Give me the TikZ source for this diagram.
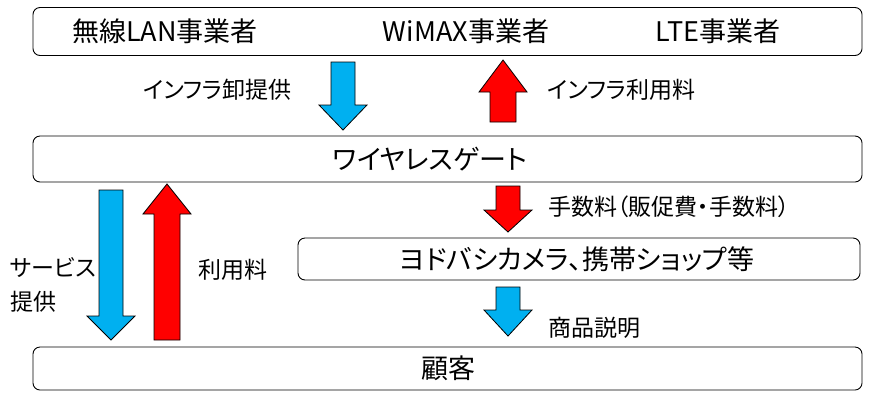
\documentclass[tikz,border=0pt]{standalone}
\usepackage{fontspec}
\newfontfamily\jp{Noto Sans CJK JP}[RawFeature=+palt]
\definecolor{cblue}{HTML}{00B0F0}
\definecolor{cred}{HTML}{FF0000}
\newcommand\blkdown[5]{\draw[#1] (#2-12,#3) -- (#2+12,#3) -- (#2+12,#4) -- (#2+24,#4) -- (#2,#5) -- (#2-24,#4) -- (#2-12,#4) -- cycle;}
\newcommand\blkup[5]{\draw[#1] (#2-13,#3) -- (#2+13,#3) -- (#2+13,#4) -- (#2+24,#4) -- (#2,#5) -- (#2-24,#4) -- (#2-13,#4) -- cycle;}
\begin{document}
\begin{tikzpicture}[x=1pt,y=-1pt,
  box/.style={draw, rounded corners=7pt, line width=0.9pt, inner sep=0},
  lbl/.style={font=\jp\fontsize{27}{29}\selectfont, inner sep=0},
  albl/.style={font=\jp\fontsize{23}{25}\selectfont, inner sep=0, anchor=west},
  bfill/.style={draw, line width=0.8pt, fill=cblue},
  rfill/.style={draw, line width=0.8pt, fill=cred}]
\useasboundingbox (0,0) rectangle (880,392);
% boxes
\node[box, minimum width=829pt, minimum height=48pt] (top) at (447.5,31.5) {};
\node[box, minimum width=829pt, minimum height=46pt] (gate) at (447.5,159) {};
\node[box, minimum width=562pt, minimum height=42pt] (shop) at (579,259) {};
\node[box, minimum width=829pt, minimum height=43pt] (cust) at (447.5,368.5) {};
% box texts
\node[lbl] (t1) at (165,31) {無線LAN事業者};
\node[lbl] (t2) at (466,31) {WiMAX事業者};
\node[lbl] (t3) at (718,31) {LTE事業者};
\node[lbl] (t4) at (430,159) {ワイヤレスゲート};
\node[lbl] (t5) at (577,259) {ヨドバシカメラ、携帯ショップ等};
\node[lbl] (t6) at (448,368) {顧客};
% arrows
\blkdown{bfill}{343}{62}{105}{130}
\blkup{rfill}{503}{122}{92}{60}
\blkdown{rfill}{508}{186}{210}{232}
\blkdown{bfill}{111}{190}{316}{340}
\blkup{rfill}{167}{340}{214}{184}
\blkdown{bfill}{508}{287}{310}{336}
% arrow labels
\node[albl] (l1) at (143,90) {インフラ卸提供};
\node[albl] (l2) at (547,90) {インフラ利用料};
\node[albl] (l3) at (548,207) {手数料（販促費・手数料）};
\node[albl] (l4) at (198,270) {利用料};
\node[albl] (l5) at (10,268) {サービス};
\node[albl] (l6) at (10,302) {提供};
\node[albl] (l7) at (548,328) {商品説明};
\end{tikzpicture}
\end{document}
